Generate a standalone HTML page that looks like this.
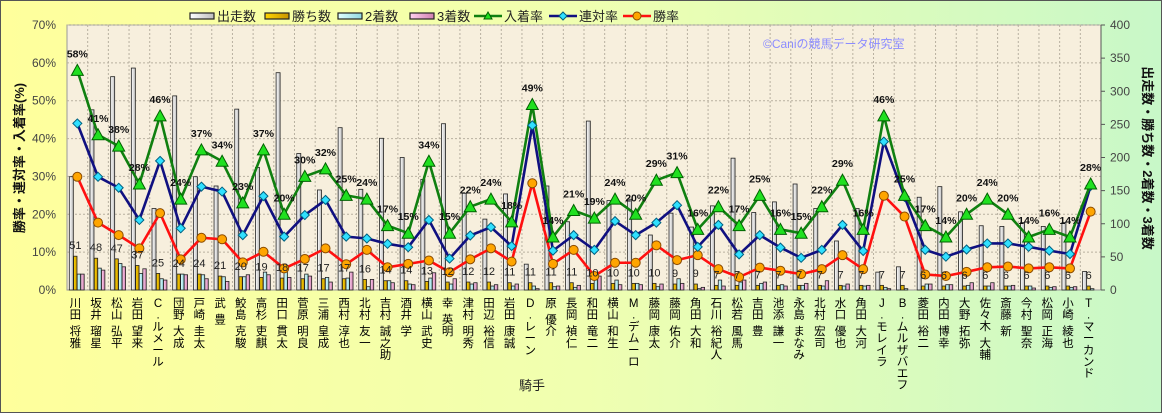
<!DOCTYPE html>
<html><head><meta charset="utf-8">
<style>
html,body{margin:0;padding:0;}
body{width:1162px;height:413px;overflow:hidden;font-family:"Liberation Sans","Noto Sans CJK JP",sans-serif;}
svg text{font-family:"Liberation Sans","Noto Sans CJK JP",sans-serif;}
</style></head>
<body>
<svg id="chart" width="1162" height="413" viewBox="0 0 1162 413" xmlns="http://www.w3.org/2000/svg">
<defs>
<linearGradient id="bg" x1="0" y1="0" x2="1" y2="0">
<stop offset="0" stop-color="#ffff9c"/><stop offset="0.5" stop-color="#f0ffb0"/><stop offset="1" stop-color="#c8f8c8"/>
</linearGradient>
<linearGradient id="gRun" x1="0" y1="0" x2="1" y2="0"><stop offset="0" stop-color="#ffffff"/><stop offset="1" stop-color="#bdbdbd"/></linearGradient>
<linearGradient id="gWin" x1="0" y1="0" x2="1" y2="0"><stop offset="0" stop-color="#ffd700"/><stop offset="1" stop-color="#c89400"/></linearGradient>
<linearGradient id="g2" x1="0" y1="0" x2="1" y2="0"><stop offset="0" stop-color="#e0ffff"/><stop offset="1" stop-color="#90d8e0"/></linearGradient>
<linearGradient id="g3" x1="0" y1="0" x2="1" y2="0"><stop offset="0" stop-color="#ffd0f0"/><stop offset="1" stop-color="#d080b0"/></linearGradient>
</defs>
<rect x="0.5" y="0.5" width="1161" height="412" fill="url(#bg)" stroke="#555" stroke-width="1"/>
<rect x="67" y="25" width="1034" height="265" fill="#f7efdd" stroke="#999"/>
<g id="grid"></g>
<g id="bars"></g>
<g id="lines"></g>
<g id="labels"></g>
<g id="axes"></g>
<text x="763" y="48" font-size="12" fill="#8c8cff">©Caniの競馬データ研究室</text>
<text x="532" y="390" font-size="13" fill="#222" text-anchor="middle">騎手</text>
<text transform="translate(24,158) rotate(-90)" font-size="13" font-weight="bold" fill="#111" text-anchor="middle">勝率・連対率・入着率(%)</text>
<text transform="translate(1143,158) rotate(90)" font-size="13" font-weight="bold" fill="#111" text-anchor="middle">出走数・勝ち数・2着数・3着数</text>
<g id="legend"></g>
</svg>
<script>
const jockeys=["川田 将雅","坂井 瑠星","松山 弘平","岩田 望来","C. ルメール","団野 大成","戸崎 圭太","武 豊","鮫島 克駿","高杉 吏麒","田口 貫太","菅原 明良","三浦 皇成","西村 淳也","北村 友一","吉村 誠之助","酒井 学","横山 武史","幸 英明","津村 明秀","田辺 裕信","岩田 康誠","D. レーン","原 優介","長岡 禎仁","和田 竜二","横山 和生","M. デムーロ","藤岡 康太","藤岡 佑介","角田 大和","石川 裕紀人","松若 風馬","吉田 豊","池添 謙一","永島 まなみ","北村 宏司","水口 優也","角田 大河","J. モレイラ","B. ムルザバエフ","菱田 裕二","内田 博幸","大野 拓弥","佐々木 大輔","斎藤 新","今村 聖奈","松岡 正海","小崎 綾也","T. マーカンド"];
const runs=[171,272,322,335,123,293,171,157,273,185,328,206,151,245,152,229,200,167,251,146,107,145,39,157,103,255,135,137,83,116,95,127,199,117,133,160,123,74,123,27,35,140,156,118,97,96,102,96,102,28];
const wins=[51,48,47,37,25,24,24,21,20,19,18,17,17,17,16,14,14,13,12,12,12,11,11,11,11,10,10,10,10,9,9,7,7,7,7,7,7,7,7,7,7,6,6,6,6,6,6,6,6,6];
const seconds=[24,33,40,25,17,24,23,20,20,27,28,24,19,18,5,14,9,18,9,9,6,6,6,5,4,17,15,10,5,17,2,15,12,10,8,7,6,6,6,4,2,9,8,7,6,6,6,4,4,2];
const thirds=[24,30,35,32,15,23,17,13,23,23,19,21,12,27,16,11,8,26,17,11,8,9,2,6,7,21,8,8,9,10,4,6,15,12,6,10,14,9,7,2,0,9,8,11,11,7,3,5,5,0];
const placeRate=[58,41,38,28,46,24,37,34,23,37,20,30,32,25,24,17,15,34,15,22,24,18,49,14,21,19,24,20,29,31,16,22,17,25,16,15,22,29,16,46,25,17,14,20,24,20,14,16,14,28];
const rentaiRate=[44.0,29.9,27.0,18.5,34.1,16.3,27.3,26.0,14.5,24.8,14.1,19.8,23.8,14.1,13.6,12.2,11.3,18.5,8.3,14.4,16.6,11.6,43.5,10.4,14.5,10.6,18.2,14.5,17.8,22.4,11.4,17.2,9.4,14.5,11.2,8.5,10.6,17.2,10.3,39.2,24.6,10.6,8.8,10.7,12.3,12.3,11.4,10.4,9.5,27.5];
const winRate=[29.9,17.8,14.5,11.0,20.3,8.1,13.8,13.4,7.3,10.1,5.7,8.2,11.0,6.8,10.6,6.0,6.9,7.8,4.7,8.1,11.0,7.5,28.2,6.9,10.6,3.7,7.2,7.2,11.8,7.9,9.2,5.5,3.4,5.9,5.1,4.2,5.5,9.2,5.5,24.9,19.4,4.1,3.7,4.8,6.0,6.2,5.7,6.0,5.7,20.7];
const leftTicks=["0%","10%","20%","30%","40%","50%","60%","70%"];
const rightTicks=["0","50","100","150","200","250","300","350","400"];

const NS="http://www.w3.org/2000/svg";
const PL=67,PR=1101,PT=25,PB=290;
const slot=(PR-PL)/jockeys.length;
function yPct(v){return PB-(v/70)*(PB-PT);}
function yCnt(v){return PB-(v/400)*(PB-PT);}
function xSlot(i){return PL+slot*i;}
function xC(i){return PL+slot*(i+0.5);}
function mk(tag,attrs,parent){const e=document.createElementNS(NS,tag);for(const k in attrs)e.setAttribute(k,attrs[k]);parent.appendChild(e);return e;}
const grid=document.getElementById('grid'),bars=document.getElementById('bars'),lines=document.getElementById('lines'),labels=document.getElementById('labels'),axes=document.getElementById('axes'),legend=document.getElementById('legend');

for(let i=1;i<jockeys.length;i++){const l=mk('line',{x1:xSlot(i),x2:xSlot(i),y1:PT,y2:PB,stroke:'#b8b0a0','stroke-dasharray':'2,2','stroke-width':1},grid);

}
for(let t=1;t<leftTicks.length;t++){const y=yPct(t*10);const l=mk('line',{x1:PL,x2:PR,y1:y,y2:y,stroke:'#b8b0a0','stroke-dasharray':'2,2','stroke-width':1},grid);

}

leftTicks.forEach((t,k)=>{const e=mk('text',{x:56,y:yPct(k*10)+4,'font-size':12,fill:'#444','text-anchor':'end'},axes);e.textContent=t;

});
rightTicks.forEach((t,k)=>{const y=yCnt(k*50);mk('line',{x1:PR,x2:PR+4,y1:y,y2:y,stroke:'#555'},axes);const e=mk('text',{x:1110,y:y+4,'font-size':12,fill:'#444'},axes);e.textContent=t;

});
mk('line',{x1:PR,x2:PR,y1:PT,y2:PB,stroke:'#555'},axes);

const series=[[runs,'url(#gRun)',2.3,4,'run'],[wins,'url(#gWin)',6.6,3.4,'win'],[seconds,'url(#g2)',10.2,3.4,'second'],[thirds,'url(#g3)',13.8,3.4,'third']];
jockeys.forEach((j,i)=>{
 series.forEach(s=>{const v=s[0][i];const y=yCnt(v);const r=mk('rect',{x:xSlot(i)+s[2],y:y,width:s[3],height:PB-y,fill:s[1],stroke:'#222','stroke-width':0.8},bars);
 
 });
 const wl=mk('text',{x:xC(i)-2,y:yCnt(wins[i])-7,'font-size':11,fill:'#222','text-anchor':'middle'},labels);wl.textContent=wins[i];
 
 
 // vertical label drawn as tspans one char per line
 const xl=mk('text',{'font-size':11.5,fill:'#000','text-anchor':'middle'},labels);
 
 
 let y=307;
 for(const ch of j){
   if(ch===' '){y+=5;continue;}
   const ts=mk('tspan',{x:xC(i)-2,y:y},xl);ts.textContent=ch;
   y+=(ch==='.')?7:11.6;
 }
});

function drawLine(vals,color,name){const pts=vals.map((v,i)=>xC(i)+','+yPct(v)).join(' ');const p=mk('polyline',{points:pts,fill:'none',stroke:color,'stroke-width':2.6,'stroke-linejoin':'round'},lines);

}
drawLine(winRate,'#ff1010','win-rate-line');
drawLine(rentaiRate,'#101080','rentai-rate-line');
drawLine(placeRate,'#108010','place-rate-line');
winRate.forEach((v,i)=>{const c=mk('circle',{cx:xC(i),cy:yPct(v),r:4.5,fill:'#ffa500',stroke:'#8a4a00','stroke-width':1},lines);

});
rentaiRate.forEach((v,i)=>{const x=xC(i),y=yPct(v);const d=mk('polygon',{points:`${x},${y-4.5} ${x+4.5},${y} ${x},${y+4.5} ${x-4.5},${y}`,fill:'#30e0ff',stroke:'#006080','stroke-width':1},lines);

});
placeRate.forEach((v,i)=>{const x=xC(i),y=yPct(v);const t=mk('polygon',{points:`${x},${y-6} ${x+6},${y+5} ${x-6},${y+5}`,fill:'#20e020',stroke:'#006000','stroke-width':1},lines);


const l=mk('text',{x:x,y:y-13,'font-size':10.5,'font-weight':'bold',fill:'#111','text-anchor':'middle'},labels);l.textContent=v+'%';

});

const legBars=[[190,'url(#gRun)','出走数'],[265,'url(#gWin)','勝ち数'],[338,'url(#g2)','2着数'],[410,'url(#g3)','3着数']];
legBars.forEach(b=>{const r=mk('rect',{x:b[0],y:13,width:24,height:6,fill:b[1],stroke:'#222','stroke-width':1.2},legend);


const t=mk('text',{x:b[0]+27,y:21,'font-size':13,fill:'#222'},legend);t.textContent=b[2];

});
const legLines=[[474,'#108010','入着率','tri'],[549,'#101080','連対率','dia'],[623,'#ff1010','勝率','cir']];
legLines.forEach(b=>{mk('line',{x1:b[0],x2:b[0]+28,y1:16,y2:16,stroke:b[1],'stroke-width':2.6},legend);const cx=b[0]+14;
if(b[3]==='tri')mk('polygon',{points:`${cx},${12} ${cx+4},${19} ${cx-4},${19}`,fill:'#20e020',stroke:'#006000'},legend);
if(b[3]==='dia')mk('polygon',{points:`${cx},${12} ${cx+4},${16} ${cx},${20} ${cx-4},${16}`,fill:'#30e0ff',stroke:'#006080'},legend);
if(b[3]==='cir')mk('circle',{cx:cx,cy:16,r:4,fill:'#ffa500',stroke:'#8a4a00'},legend);
const t=mk('text',{x:b[0]+30,y:21,'font-size':13,fill:'#222'},legend);t.textContent=b[2];

});
</script>
</body></html>
